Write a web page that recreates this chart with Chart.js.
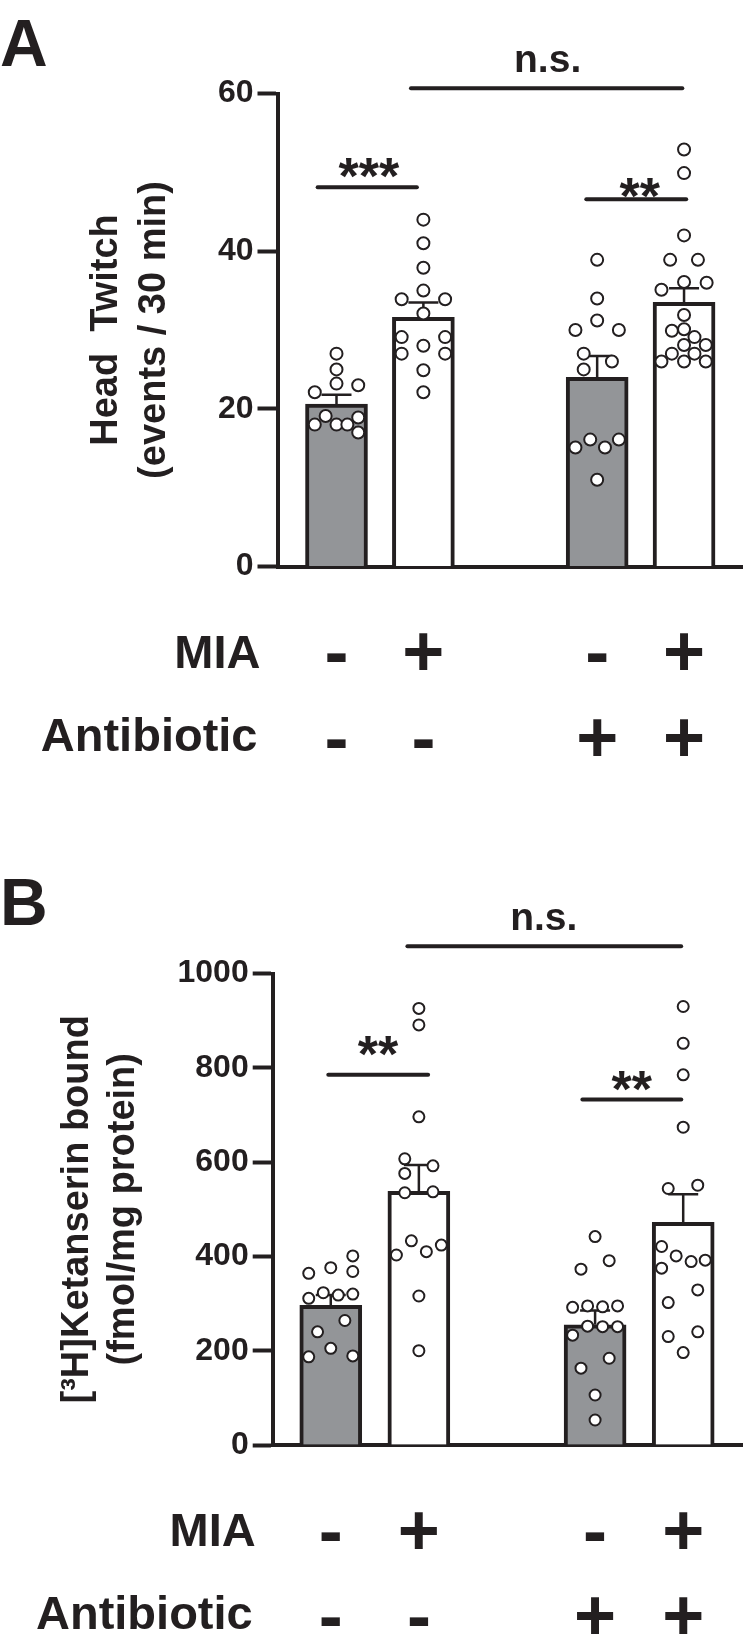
<!DOCTYPE html>
<html>
<head>
<meta charset="utf-8">
<script src="https://cdn.jsdelivr.net/npm/chart.js@4.4.1/dist/chart.umd.min.js"></script>
<style>
  html, body { margin: 0; padding: 0; background: #ffffff; }
  .panel { position: relative; width: 750px; }
  canvas { display: block; }
</style>
</head>
<body>
<div class="panel"><canvas id="head-twitch" width="750" height="800"></canvas></div>
<div class="panel"><canvas id="ketanserin" width="750" height="839"></canvas></div>
<script>
"use strict";

var FONT = '"Liberation Sans", Arial, Helvetica, sans-serif';
var INK = '#231f20';

// groups: position on x, treatment rows
var groupX = [1, 2, 4, 5];
var miaRow = ['-', '+', '-', '+'];
var antibioticRow = ['-', '-', '+', '+'];
var barFills = ['#939598', '#ffffff', '#939598', '#ffffff'];

// A: head twitch (events / 30 min)
var twitchMean = [20.6, 31.6, 24.0, 33.5];
var twitchSem = [1.2, 1.9, 2.7, 1.8];
var twitchCtl = [27.0, 25.0, 23.2, 22.1, 23.0, 19.1, 18.0, 18.0, 18.0, 18.9, 17.0];
var twitchCtlJit = [0, 0, 0, -0.25, 0.25, -0.125, -0.25, 0, 0.125, 0.25, 0.25];
var twitchMia = [44.0, 41.0, 37.9, 35.0, 33.9, 33.9, 32.1, 29.1, 27.0, 28.0, 29.1, 27.0, 24.9, 22.1];
var twitchMiaJit = [0, 0, 0, 0, -0.25, 0.25, 0, -0.25, -0.25, 0, 0.25, 0.25, 0, 0];
var twitchAbx = [38.9, 34.0, 31.2, 30.0, 30.0, 27.0, 25.0, 26.0, 15.1, 16.1, 15.1, 16.1, 11.0];
var twitchAbxJit = [0, 0, 0, -0.25, 0.25, -0.155, -0.155, 0.17, -0.25, -0.08, 0.09, 0.25, 0];
var twitchMiaAbx = [52.9, 49.9, 42.0, 38.9, 38.9, 35.1, 36.1, 36.0, 31.9, 29.9, 30.1, 29.1, 28.1, 28.1, 27.0, 27.0, 26.0, 26.0, 26.0];
var twitchMiaAbxJit = [0, 0, 0, -0.16, 0.16, -0.26, 0, 0.26, 0, -0.14, 0, 0.12, 0, 0.25, -0.14, 0.12, -0.26, 0, 0.25];
var twitchTicks = [0, 20, 40, 60];

// A: significance brackets (x from, x to, y) and their labels
var twitchSigFrom = [0.783, 3.875, 1.857];
var twitchSigTo = [1.925, 5.025, 4.98];
var twitchSigY = [48.1, 46.6, 60.66];
var twitchSigText = ['***', '**', 'n.s.'];
var twitchSigTextX = [1.373, 4.49, 3.43];
var twitchSigTextY = [47.3, 44.75, 62.77];

// B: [3H]ketanserin bound (fmol/mg protein)
var ketMean = [296, 538, 255, 472];
var ketSem = [22, 56, 30, 60];
var ketCtl = [364, 376, 401, 368, 311, 323, 318, 320, 264, 240, 205, 187, 189];
var ketCtlJit = [-0.25, 0, 0.25, 0.25, -0.25, -0.085, 0.085, 0.25, 0.16, -0.15, 0, -0.25, 0.25];
var ketMia = [926, 891, 696, 607, 592, 576, 535, 537, 403, 433, 410, 424, 316, 200];
var ketMiaJit = [0, 0, 0, -0.16, 0.16, -0.16, -0.16, 0.16, -0.255, -0.085, 0.085, 0.255, 0, 0];
var ketAbx = [442, 373, 391, 292, 295, 293, 295, 252, 251, 251, 233, 184, 163, 106, 53];
var ketAbxJit = [0, -0.16, 0.16, -0.255, -0.085, 0.085, 0.255, -0.085, 0.085, 0.255, -0.255, 0.16, -0.16, 0, 0];
var ketMiaAbx = [930, 852, 785, 674, 544, 551, 421, 401, 389, 392, 375, 329, 302, 240, 230, 196];
var ketMiaAbxJit = [0, 0, 0, 0, -0.17, 0.165, -0.245, -0.08, 0.09, 0.25, -0.245, 0.165, -0.17, 0.165, -0.17, 0];
var ketTicks = [0, 200, 400, 600, 800, 1000];

var ketSigFrom = [0.972, 3.856, 1.87];
var ketSigTo = [2.105, 4.978, 4.977];
var ketSigY = [785, 733, 1058];
var ketSigText = ['**', '**', 'n.s.'];
var ketSigTextX = [1.535, 4.415, 3.417];
var ketSigTextY = [791.7, 717.5, 1092];


function panelChart(canvasId, p) {

    var ctx = document.getElementById(canvasId);

    var bars = [];
    var dots = [];
    for (var i = 0; i < groupX.length; i++) {
        bars.push({x: groupX[i], y: p.mean[i]});
        for (var j = 0; j < p.points[i].length; j++) {
            dots.push({x: groupX[i] + p.jitter[i][j], y: p.points[i][j]});
        }
    }

    var errorBars = {
        id: 'errorBars',
        afterDatasetDraw: function (chart, args) {
            if (args.meta.type !== 'bar') return;
            var c = chart.ctx;
            var xs = chart.scales.x;
            var ys = chart.scales.y;
            c.save();
            c.strokeStyle = INK;
            c.lineWidth = 2.5;
            for (var i = 0; i < groupX.length; i++) {
                var x = xs.getPixelForValue(groupX[i]);
                var y0 = ys.getPixelForValue(p.mean[i]);
                var y1 = ys.getPixelForValue(p.mean[i] + p.sem[i]);
                c.beginPath();
                c.moveTo(x, y0);
                c.lineTo(x, y1);
                c.moveTo(x - 15, y1);
                c.lineTo(x + 15, y1);
                c.stroke();
            }
            c.restore();
        }
    };

    var labels = {
        id: 'labels',
        afterDraw: function (chart) {
            var c = chart.ctx;
            var xs = chart.scales.x;
            var ys = chart.scales.y;
            var area = chart.chartArea;
            c.save();
            c.fillStyle = INK;
            c.strokeStyle = INK;

            // significance brackets
            c.lineWidth = 4;
            c.lineCap = 'round';
            for (var i = 0; i < p.sigFrom.length; i++) {
                var y = ys.getPixelForValue(p.sigY[i]);
                c.beginPath();
                c.moveTo(xs.getPixelForValue(p.sigFrom[i]), y);
                c.lineTo(xs.getPixelForValue(p.sigTo[i]), y);
                c.stroke();
                c.font = p.sigText[i] === 'n.s.' ? 'bold 39px ' + FONT : 'bold 52px ' + FONT;
                c.textAlign = 'center';
                c.textBaseline = 'alphabetic';
                c.fillText(p.sigText[i], xs.getPixelForValue(p.sigTextX[i]), ys.getPixelForValue(p.sigTextY[i]));
            }

            // treatment rows under the axis
            c.font = 'bold 47px ' + FONT;
            c.textAlign = 'right';
            c.textBaseline = 'alphabetic';
            c.fillText('MIA', area.left - 17, area.bottom + 101);
            c.fillText('Antibiotic', area.left - 20, area.bottom + 184);

            c.font = 'bold 72px ' + FONT;
            c.textAlign = 'center';
            c.textBaseline = 'middle';
            for (var k = 0; k < groupX.length; k++) {
                var gx = xs.getPixelForValue(groupX[k]);
                c.fillText(miaRow[k], gx, area.bottom + 90);
                c.fillText(antibioticRow[k], gx, area.bottom + 175.5);
            }

            // panel letter
            c.font = 'bold 66px ' + FONT;
            c.textAlign = 'left';
            c.fillText(p.letter, 0, p.letterY);
            c.restore();
        }
    };

    return new Chart(ctx, {
        type: 'bar',
        data: {
            datasets: [
                {
                    type: 'scatter',
                    data: dots,
                    order: 0,
                    pointRadius: p.dotRadius,
                    pointBorderWidth: 2,
                    pointBorderColor: INK,
                    pointBackgroundColor: '#ffffff',
                    pointHoverRadius: p.dotRadius
                },
                {
                    type: 'bar',
                    data: bars,
                    order: 1,
                    barThickness: 62,
                    borderWidth: 4,
                    borderColor: INK,
                    backgroundColor: barFills
                }
            ]
        },
        options: {
            responsive: false,
            animation: false,
            devicePixelRatio: 1,
            layout: {padding: p.padding},
            plugins: {legend: {display: false}, tooltip: {enabled: false}},
            scales: {
                x: {
                    type: 'linear',
                    min: p.xMin,
                    max: p.xMax,
                    offset: false,
                    ticks: {display: false},
                    grid: {display: false},
                    border: {display: true, width: 4, color: INK},
                    afterFit: function (s) { s.height = 10; }
                },
                y: {
                    type: 'linear',
                    min: 0,
                    max: p.yMax,
                    afterBuildTicks: function (s) {
                        s.ticks = p.ticks.map(function (v) { return {value: v}; });
                    },
                    ticks: {
                        color: INK,
                        padding: 4,
                        font: {family: FONT, size: 32, weight: 'bold'},
                        callback: function (v) { return String(v); }
                    },
                    grid: {drawOnChartArea: false, drawTicks: true, tickLength: 20, tickWidth: 4, tickColor: INK},
                    border: {display: true, width: 4, color: INK},
                    title: {
                        display: true,
                        text: p.title,
                        color: INK,
                        font: {family: FONT, size: 38, weight: 'bold', lineHeight: p.titleLine},
                        padding: {top: p.titlePad, bottom: 0}
                    },
                    afterFit: function (s) { s.width = p.axisX; }
                }
            }
        },
        plugins: [errorBars, labels]
    });
}

panelChart('head-twitch', {
    mean: twitchMean,
    sem: twitchSem,
    points: [twitchCtl, twitchMia, twitchAbx, twitchMiaAbx],
    jitter: [twitchCtlJit, twitchMiaJit, twitchAbxJit, twitchMiaAbxJit],
    ticks: twitchTicks,
    yMax: 60,
    xMin: 0.321,
    xMax: 5.667,
    axisX: 277.5,
    padding: {top: 93.5, bottom: 223.5, left: 0, right: 0},
    title: ['Head  Twitch', '(events / 30 min)'],
    titleLine: 1.25,
    titlePad: 83,
    dotRadius: 6,
    sigFrom: twitchSigFrom, sigTo: twitchSigTo, sigY: twitchSigY,
    sigText: twitchSigText, sigTextX: twitchSigTextX, sigTextY: twitchSigTextY,
    letter: 'A',
    letterY: 48
});

panelChart('ketanserin', {
    mean: ketMean,
    sem: ketSem,
    points: [ketCtl, ketMia, ketAbx, ketMiaAbx],
    jitter: [ketCtlJit, ketMiaJit, ketAbxJit, ketMiaAbxJit],
    ticks: ketTicks,
    yMax: 1000,
    xMin: 0.341,
    xMax: 5.673,
    axisX: 272.7,
    padding: {top: 173.5, bottom: 184, left: 0, right: 7},
    title: ['[\u00b3H]Ketanserin bound', '(fmol/mg protein)'],
    titleLine: 1.2,
    titlePad: 55,
    dotRadius: 5.5,
    sigFrom: ketSigFrom, sigTo: ketSigTo, sigY: ketSigY,
    sigText: ketSigText, sigTextX: ketSigTextX, sigTextY: ketSigTextY,
    letter: 'B',
    letterY: 106.7
});
</script>
</body>
</html>
